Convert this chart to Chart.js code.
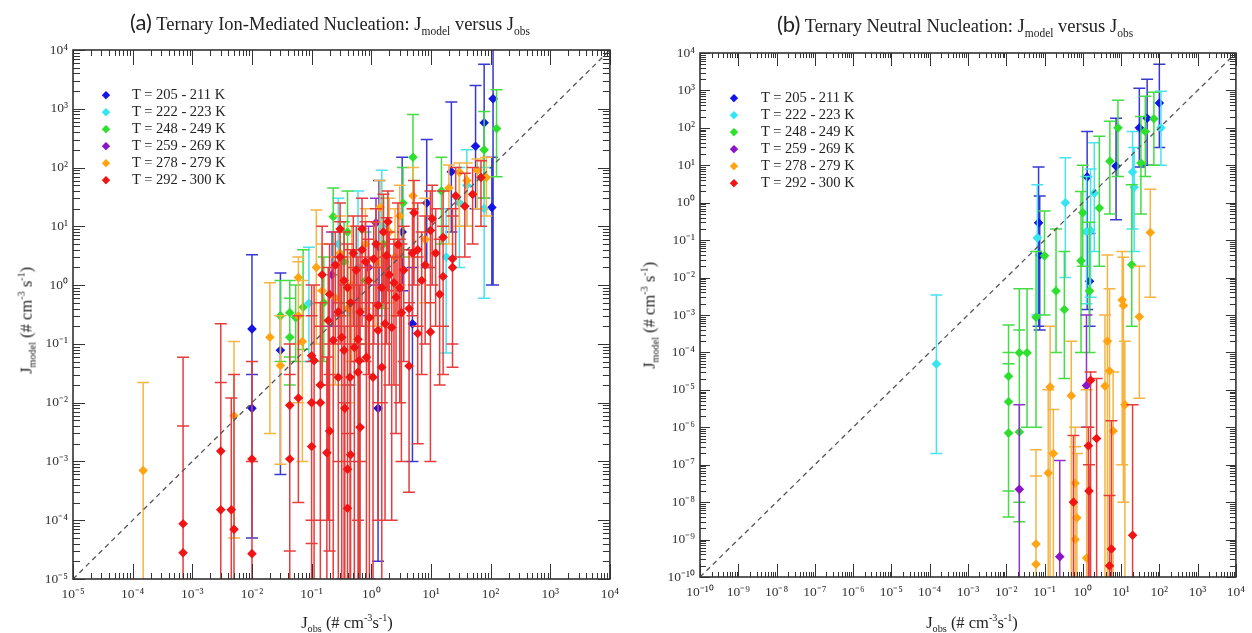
<!DOCTYPE html>
<html><head><meta charset="utf-8">
<script src="https://cdn.jsdelivr.net/npm/chart.js@4/dist/chart.umd.min.js"></script>
<style>
body{margin:0;background:#fff;width:1252px;height:633px;overflow:hidden;position:relative;font-family:'Liberation Serif',serif;color:#222;}
canvas{position:absolute;top:0;}
.t{position:absolute;text-align:center;white-space:nowrap;}
.t sub,.t sup{font-size:0.62em;}
.ttl{font-size:18.5px;line-height:28px;}
.ttl .p{font-family:Lato,'Open Sans',sans-serif;font-size:22px;}
.ax{font-size:16.5px;line-height:24px;}
.rot{transform:rotate(-90deg);}
.lg{position:absolute;font-size:14.5px;line-height:17px;white-space:nowrap;}
.lg .m{position:absolute;width:12px;text-align:center;font-family:'DejaVu Sans',sans-serif;font-size:11px;}
</style></head><body>
<canvas id="ca" width="626" height="633" style="left:0"></canvas>
<canvas id="cb" width="626" height="633" style="left:626px"></canvas>

<div class="t ttl" style="left:30px;top:8px;width:600px"><span class="p">(a)</span> Ternary Ion-Mediated Nucleation: J<sub>model</sub> versus J<sub>obs</sub></div>
<div class="t ttl" style="left:655px;top:10px;width:600px"><span class="p">(b)</span> Ternary Neutral Nucleation: J<sub>model</sub> versus J<sub>obs</sub></div>
<div class="t ax" style="left:247px;top:606px;width:200px">J<sub>obs</sub> (# cm<sup>-3</sup>s<sup>-1</sup>)</div>
<div class="t ax" style="left:872px;top:606px;width:200px">J<sub>obs</sub> (# cm<sup>-3</sup>s<sup>-1</sup>)</div>
<div class="t ax rot" style="left:-83px;top:303px;width:220px">J<sub>model</sub> (# cm<sup>-3</sup> s<sup>-1</sup>)</div>
<div class="t ax rot" style="left:540px;top:298px;width:220px">J<sub>model</sub> (# cm<sup>-3</sup> s<sup>-1</sup>)</div>
<div id="lga"></div><div id="lgb"></div>

<script>
// ---- series labels / colours ----
const seriesLabels = ['T = 205 - 211 K','T = 222 - 223 K','T = 248 - 249 K','T = 259 - 269 K','T = 278 - 279 K','T = 292 - 300 K'];
const pointColors = ['#1414e6','#34e6f2','#2ee02e','#8a14c8','#ffa514','#f01414'];
const errColors   = ['#3838d2','#48e2f0','#44dc44','#9032cc','#f6b444','#e63c3c'];

// ---- tick labels ----
const aTicks  = [1e-5,1e-4,1e-3,1e-2,1e-1,1,1e1,1e2,1e3,1e4];
const bTicks  = [1e-10,1e-9,1e-8,1e-7,1e-6,1e-5,1e-4,1e-3,1e-2,1e-1,1,1e1,1e2,1e3,1e4];

// ---- panel (a): [Jobs, Jmodel, lower, upper] ----
const a_T205 = [
 [1e-2,0.18,0.03,3.3],[1e-2,8e-3,5e-5,0.03],[0.03,0.078,6e-4,1.6],[1.3,8e-3,2e-5,0.5],
 [4.9,0.22,1e-3,2],[1.35,4.4,0.5,60],[3.3,8,0.8,150],[8.5,25,2,300],[22,85,8,1300],
 [56,230,20,2500],[78,580,30,5700],[110,1480,1,2e4],[105,21,1,150]];
const a_T222 = [
 [0.09,0.49,0.05,4.4],[0.28,5,0.5,30],[0.6,2,0.2,40],[1.5,10,0.3,90],[18,3,0.07,20],
 [78,20,0.6,100],[40,50,10,200],[0.45,0.35,0.02,3],[30,25,2,100]];
const a_T248 = [
 [0.03,0.3,0.05,1.2],[0.043,0.34,0.06,1.2],[0.043,0.13,0.02,0.6],[0.054,0.28,0.05,1],
 [0.072,0.42,0.08,4],[0.16,0.5,0.05,3],[0.23,14.6,1.5,45],[0.35,2.5,0.3,12],[0.4,8,0.5,40],
 [3.4,25,3,100],[5,150,20,800],[15,40,5,150],[78,200,30,900],[126,460,70,2100],
 [1.6,5,0.4,30],[0.8,1.2,0.1,8]];
const a_T259 = [[0.22,1.5,0.2,8],[1.2,11.5,1,30],[0.9,2,0.3,10]];
const a_T278 = [
 [1.5e-4,7e-4,1e-7,2.2e-2],[5e-3,6e-3,5e-5,0.11],[0.02,0.13,3e-3,1.1],[0.03,0.043,9e-4,0.3],
 [0.06,0.3,0.01,2.5],[0.06,1.35,0.1,3],[0.07,0.11,1e-3,1.2],[0.12,2,0.1,19],[0.25,0.6,0.02,3],
 [0.47,1,0.05,10],[1.4,21,2,60],[2.5,3,0.3,20],[5,33,3,100],[8,6,0.5,30],[30,83,10,120],[85,68,15,150],
 [0.3,3.5,0.3,15],[0.8,5,0.4,20],[1.2,2.5,0.2,12],[2,8,0.5,30],[3,15,1,50],[0.4,0.4,0.01,3],
 [40,60,10,120],[20,45,5,110],[60,90,20,140],[0.15,0.8,0.02,5]];
const a_T292 = [
 [7e-4,8.7e-5,1e-7,5.9e-2],[7e-4,2.8e-5,1e-7,4e-3],[3e-3,1.5e-3,1e-7,0.22],[3e-3,1.5e-4,1e-7,2.2e-2],
 [4.5e-3,1.5e-4,1e-7,1.2e-2],[5e-3,7e-5,1e-7,3e-2],[1e-2,1.1e-3,1e-7,5e-2],[1e-2,2.7e-5,1e-7,1e-3],
 [0.043,9e-3,3e-5,0.1],[0.043,1.1e-3,1e-7,0.03],[0.06,1.2e-2,2e-4,0.3],[0.1,1e-2,1e-4,0.3],
 [0.1,1.8e-3,1e-5,0.05],[0.1,0.063,4e-5,1],[0.11,0.052,1e-7,1],[0.14,0.01,1e-4,0.2],
 [0.14,0.02,1e-7,0.5],[0.18,1.4e-3,1e-7,0.06],[0.2,3.3e-3,3e-5,0.1],[0.2,0.7,0.03,5],
 [0.23,0.115,1e-7,2],[0.32,0.13,1e-5,3],[0.28,0.027,1e-7,0.5],[0.35,0.078,1e-7,1],
 [0.36,8e-3,1e-7,0.2],[0.4,7.4e-4,1e-7,0.02],[0.4,1.6e-4,1e-7,3e-3],[0.44,0.027,1e-7,1],
 [0.45,1.3e-3,1e-7,0.1],[0.52,0.087,1e-7,2],[0.56,1.8,0.05,10],[0.6,0.12,1e-4,3],
 [0.6,0.033,1e-7,0.5],[0.63,0.052,1e-7,1],[0.65,3.8e-3,1e-7,0.1],[0.83,0.059,1e-7,2],
 [0.93,0.28,1e-5,3],[1.07,0.027,1e-7,0.5],[1.3,0.17,1e-4,2],[1.3,0.45,0.01,5],
 [1.5,0.04,1e-7,0.5],[1.7,0.22,1e-4,3],[2.2,0.19,1e-4,3],[2.6,0.62,3e-3,5],[3.2,0.34,1e-3,5],
 [4.3,0.4,3e-4,4],[4.3,0.042,3e-4,0.5],[6,0.15,2e-3,3],[9.8,0.16,1e-3,2],[16,1.4,0.03,10],
 [23,2,0.04,15],[23,2.8,0.1,20],[16,6.5,0.2,40],[5.2,17,1,60],[9.8,8.5,0.5,40],[10.5,13.5,1,50],
 [1.2,5,0.3,20],[2.8,4.9,0.3,25],[4.9,3.5,0.3,20],[69,68,10,130],[50,35,5,100],[37,22,3,80],
 [26,33,3,100],[0.15,1.5,0.02,10],[0.3,3,0.1,12],[0.7,4,0.2,15],[0.35,1.2,0.01,8],
 [0.8,2.5,0.05,12],[2,1.5,0.02,8],[0.45,0.5,1e-3,4],[1.6,8,0.5,35],[6,4,0.2,25],
 [12,3.5,0.2,20],[14,0.7,0.02,6],
 [0.25,2.2,0.1,8],[0.4,0.9,0.02,5],[0.5,3.5,0.2,15],[0.9,1.2,0.03,6],[1.1,2.8,0.1,12],
 [1.8,3.2,0.1,14],[2.4,1.1,0.02,6],[3.5,1.8,0.05,10],[0.65,0.35,1e-3,4],[1.5,0.9,0.01,5],
 [3,0.9,0.01,6],[7,1.2,0.03,8],[0.28,0.35,1e-3,3],[0.19,0.25,1e-4,2],[8,2.2,0.1,15],
 [0.7,9,0.5,30],[0.3,9,0.3,25],[1.9,12,0.8,40]];

// ---- panel (b) ----
const b_T205 = [
 [100,460,30,5000],[48,180,10,2000],[30,100,9,1150],[7.4,9.5,0.35,180],[1.3,4.9,1.4e-3,80],
 [1.5,8e-3,5e-4,0.15],[0.07,0.29,5e-4,9],[0.075,0.04,4e-4,1.5]];
const b_T222 = [
 [1.5e-4,4.9e-5,2e-7,3.4e-3],[0.065,0.115,1e-3,3],[0.35,1,0.01,16],[1.25,0.17,2e-3,5],
 [1.6,0.18,3e-3,8],[2,1.8,0.05,40],[20,6.6,0.2,80],[22,2.6,0.05,30],[110,100,10,950]];
const b_T248 = [
 [0.0115,2.3e-5,4e-9,5.4e-4],[0.0115,4.8e-6,2e-8,1e-4],[0.0115,7e-7,4e-9,5e-5],
 [0.022,9.8e-5,3e-9,5e-3],[0.022,7.5e-7,1e-8,4e-4],[0.035,9.8e-5,1e-6,5e-3],
 [0.06,8.7e-4,1e-6,0.05],[0.1,0.038,1e-3,0.6],[0.2,4.4e-3,1e-4,0.2],[0.33,1.4e-3,2e-5,0.05],
 [0.9,0.028,1e-4,2],[1.5,4.4e-3,1e-4,0.3],[1.0,0.54,0.02,10],[2.7,0.72,0.02,60],
 [5.1,12.9,0.5,150],[8.3,100,5,550],[19,0.022,5e-4,3],[33,11.5,0.5,200],[43,80,5,700],[72,175,10,900]];
const b_T259 = [[0.022,2.2e-8,1e-11,4e-6],[0.25,3.5e-10,1e-11,1.3e-7],[1.25,1.3e-5,1e-6,1e-3]];
const b_T278 = [
 [0.06,7.6e-10,1e-11,2.5e-7],[0.06,2.2e-10,1e-11,5e-8],[0.14,1.2e-5,1e-11,5e-4],
 [0.125,6e-8,1e-11,1e-5],[0.17,2e-7,1e-11,3e-6],[0.5,7e-6,1e-11,2e-4],[0.63,3.2e-8,1e-11,1e-6],
 [0.7,3.8e-9,1e-11,2e-7],[0.63,1e-9,1e-11,3e-7],[1.26,3.2e-10,1e-11,1e-5],[3.8,1.26e-5,1e-11,1e-3],
 [4.4,2e-4,1e-11,0.04],[5,3.2e-5,1e-11,5e-3],[6.2,8e-7,1e-11,3e-5],[10.7,2.5e-3,1e-7,0.05],
 [11.5,1.8e-3,1e-8,0.035],[12.6,4e-6,1e-11,2e-4],[30,9e-4,6e-6,0.02],[58,0.16,3e-3,2.3]];
const b_T292 = [
 [0.57,1e-8,1e-11,6e-7],[1.4,3.2e-7,1e-11,1e-6],[1.45,2e-8,1e-11,1e-7],[1.6,1.8e-5,1e-11,3e-5],
 [2.3,5e-7,1e-11,2e-5],[5.6,5.6e-10,1e-11,1.5e-6],[5,2e-10,1e-11,1.5e-8],[20,1.3e-9,1e-11,4e-6]];

const oneToOneA = [1e-5,1e4];
const oneToOneB = [1e-10,1e4];

// ---- helpers ----
const SUP = {'-':'\u207B','0':'\u2070','1':'\u00B9','2':'\u00B2','3':'\u00B3','4':'\u2074','5':'\u2075','6':'\u2076','7':'\u2077','8':'\u2078','9':'\u2079'};
function fmt(v){ const e = Math.round(Math.log10(v)); return '10' + String(e).split('').map(c=>SUP[c]).join(''); }

const errorBars = {
  id:'errorBars',
  beforeDatasetDraw(chart, args){
    const ds = chart.data.datasets[args.index];
    if(!ds.errColor) return;
    const {ctx, chartArea:a, scales:{x,y}} = chart;
    ctx.save();
    ctx.beginPath(); ctx.rect(a.left, a.top, a.right-a.left, a.bottom-a.top); ctx.clip();
    ctx.strokeStyle = ds.errColor; ctx.lineWidth = 1.5;
    ctx.beginPath();
    for(const p of ds.data){
      const px = x.getPixelForValue(p.x), yl = y.getPixelForValue(p.lo), yh = y.getPixelForValue(p.hi);
      ctx.moveTo(px, yl); ctx.lineTo(px, yh);
      ctx.moveTo(px-6, yh); ctx.lineTo(px+6, yh);
      ctx.moveTo(px-6, yl); ctx.lineTo(px+6, yl);
    }
    ctx.stroke(); ctx.restore();
  }
};

const frame = {
  id:'frame',
  afterDatasetsDraw(chart, args, o){
    const {ctx, chartArea:a, scales:{x,y}} = chart;
    ctx.save();
    ctx.strokeStyle = '#333'; ctx.lineWidth = 1;
    ctx.beginPath();
    const decs = s => [Math.round(Math.log10(s.min)), Math.round(Math.log10(s.max))];
    const [x0,x1] = decs(x), [y0,y1] = decs(y);
    for(let e=x0; e<=x1; e++){
      for(let m=1; m<=(e<x1?9:1); m++){
        const px = Math.round(x.getPixelForValue(m*Math.pow(10,e)))+0.5;
        const L = m===1 ? o.xMaj : o.xMin;
        ctx.moveTo(px, a.bottom); ctx.lineTo(px, a.bottom-L);
        ctx.moveTo(px, a.top); ctx.lineTo(px, a.top+L);
      }
    }
    for(let e=y0; e<=y1; e++){
      for(let m=1; m<=(e<y1?9:1); m++){
        const py = Math.round(y.getPixelForValue(m*Math.pow(10,e)))+0.5;
        const L = m===1 ? o.yMaj : o.yMin;
        ctx.moveTo(a.left, py); ctx.lineTo(a.left+L, py);
        ctx.moveTo(a.right, py); ctx.lineTo(a.right-L, py);
      }
    }
    ctx.stroke();
    ctx.lineWidth = 1.6;
    ctx.strokeRect(a.left, a.top, a.right-a.left, a.bottom-a.top);
    ctx.restore();
  }
};

function makePanel(id, series, o){
  const datasets = [{
    data: o.diag.map(v=>({x:v,y:v})), showLine:true, borderColor:'#555', borderWidth:1.3,
    borderDash:[5,4], pointRadius:0, order:0
  }];
  series.forEach((s,i)=>datasets.push({
    label: seriesLabels[i],
    data: s.map(p=>({x:p[0],y:p[1],lo:p[2],hi:p[3]})),
    pointStyle:'rectRot', pointRadius:4.8, pointBorderWidth:0,
    backgroundColor: pointColors[i], borderColor: pointColors[i],
    errColor: errColors[i], order: 6-i
  }));
  const tickFont = {family:'Liberation Serif', size:13.5};
  return new Chart(document.getElementById(id), {
    type:'scatter',
    data:{datasets},
    options:{
      responsive:false, animation:false, events:[],
      layout:{padding:{left:0, top:o.top, right:o.right, bottom:0}},
      plugins:{legend:{display:false}, tooltip:{enabled:false},
        frame:{xMaj:o.xMaj, xMin:o.xMin, yMaj:o.yMaj, yMin:o.yMin}},
      scales:{
        x:{type:'logarithmic', min:o.ticks[0], max:o.ticks[o.ticks.length-1],
           afterBuildTicks:s=>{s.ticks = o.ticks.map(v=>({value:v}));},
           afterFit:s=>{s.height = o.xh;},
           grid:{display:false, drawTicks:false}, border:{display:false},
           ticks:{callback:v=>fmt(v), autoSkip:false, maxRotation:0, padding:7, font:tickFont, color:'#333'}},
        y:{type:'logarithmic', min:o.yticks[0], max:o.yticks[o.yticks.length-1],
           afterBuildTicks:s=>{s.ticks = o.yticks.map(v=>({value:v}));},
           afterFit:s=>{s.width = o.yw;},
           grid:{display:false, drawTicks:false}, border:{display:false},
           ticks:{callback:v=>fmt(v), autoSkip:false, padding:5, font:tickFont, color:'#333'}}
      }
    },
    plugins:[errorBars, frame]
  });
}

makePanel('ca', [a_T205,a_T222,a_T248,a_T259,a_T278,a_T292],
  {ticks:aTicks, yticks:aTicks, diag:oneToOneA, top:50, right:9, xh:54, yw:73, xMaj:15, xMin:6, yMaj:12, yMin:7});
makePanel('cb', [b_T205,b_T222,b_T248,b_T259,b_T278,b_T292],
  {ticks:bTicks, yticks:bTicks, diag:oneToOneB, top:53, right:15, xh:56, yw:74, xMaj:13, xMin:5, yMaj:10, yMin:6});

// legends (HTML text)
function legend(id, mx, tx, rows){
  const el = document.getElementById(id);
  seriesLabels.forEach((lab,i)=>{
    const r = document.createElement('div');
    r.className = 'lg';
    r.style.left = mx-6+'px'; r.style.top = (rows[i]-8.5)+'px';
    r.innerHTML = '<span class="m" style="left:0;color:'+pointColors[i]+'">\u25C6</span><span style="position:absolute;left:'+(tx-mx+6)+'px">'+lab+'</span>';
    el.appendChild(r);
  });
}
legend('lga', 106, 132, [94,111,128,145,162,179]);
legend('lgb', 734, 761, [97,114,131,148,165,182]);
</script>
</body></html>
